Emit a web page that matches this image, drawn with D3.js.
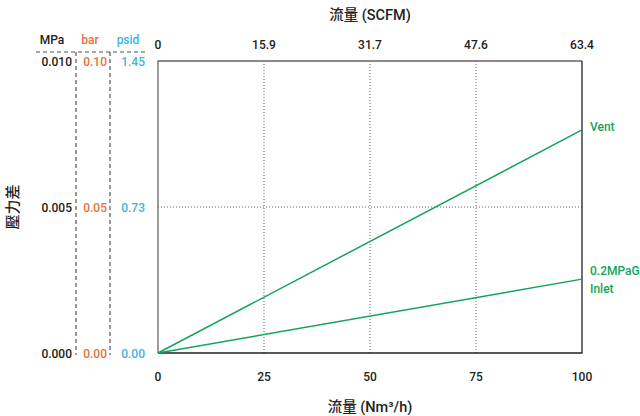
<!DOCTYPE html>
<html lang="zh-Hant">
<head>
<meta charset="UTF-8">
<title>壓力差</title>
<script src="https://cdn.jsdelivr.net/npm/d3@7"></script>
<style>
    body { margin: 0; background: #fff; }
    svg { font-family: Roboto, "Noto Sans CJK TC", sans-serif; font-size: 12px; }
</style>
</head>
<body>
<script>
    // data
    const flowTicks = [0, 25, 50, 75, 100];
    const scfmLabels = ["0", "15.9", "31.7", "47.6", "63.4"];
    const mpaTicks = [0, 0.005, 0.010];
    const mpaLabels = ["0.000", "0.005", "0.010"];
    const barLabels = ["0.00", "0.05", "0.10"];
    const psidLabels = ["0.00", "0.73", "1.45"];
    const seriesNames = ["Vent", "0.2MPaG\nInlet"];
    const ventValues = [[0, 0], [100, 0.00764]];
    const inletValues = [[0, 0], [100, 0.00253]];

    const width = 640, height = 416;
    const mLeft = 158, mRight = 582, mTop = 61, mBottom = 353;
    const green = "#14a35a";

    const svg = d3.select("body").append("svg")
        .attr("width", width)
        .attr("height", height);

    const x = d3.scaleLinear().domain([0, 100]).range([mLeft, mRight]);
    const y = d3.scaleLinear().domain([0, 0.010]).range([mBottom, mTop]);

    //grid
    svg.selectAll(".vgrid")
        .data([25, 50, 75])
        .enter().append("line")
        .attr("x1", d => x(d)).attr("x2", d => x(d))
        .attr("y1", mTop).attr("y2", mBottom)
        .attr("stroke", "#333").attr("stroke-width", 0.8)
        .attr("stroke-dasharray", "1,2");

    svg.append("line")
        .attr("x1", mLeft).attr("x2", mRight)
        .attr("y1", y(0.005)).attr("y2", y(0.005))
        .attr("stroke", "#333").attr("stroke-width", 0.8)
        .attr("stroke-dasharray", "1,2");

    // frame
    svg.append("path")
        .attr("d", `M${mLeft},${mBottom}V${mTop}H${mRight}`)
        .attr("fill", "none").attr("stroke", "#666").attr("stroke-width", 1.3);
    svg.append("path")
        .attr("d", `M${mRight},${mTop}V${mBottom}H${mLeft}`)
        .attr("fill", "none").attr("stroke", "#222").attr("stroke-width", 1.3);

    // lines
    const line = d3.line().x(d => x(d[0])).y(d => y(d[1]));
    [ventValues, inletValues].forEach(v => {
        svg.append("path")
            .attr("d", line(v))
            .attr("fill", "none")
            .attr("stroke", green)
            .attr("stroke-width", 1.5);
    });

    // series labels
    const lastVals = [ventValues[1][1], inletValues[1][1]];
    const labelShift = [1, -4];
    seriesNames.forEach((name, i) => {
        const t = svg.append("text")
            .attr("x", mRight + 8)
            .attr("y", y(lastVals[i]) + labelShift[i])
            .attr("fill", green)
            .attr("font-weight", 500);
        name.split("\n").forEach((s, j) => {
            t.append("tspan").attr("x", mRight + 8).attr("dy", j ? 18 : 0).text(s);
        });
    });

    // bottom axis
    svg.selectAll(".bt")
        .data(flowTicks)
        .enter().append("text")
        .attr("x", d => x(d)).attr("y", 381)
        .attr("text-anchor", "middle")
        .attr("fill", "#222").attr("font-weight", 500)
        .text(d => d);

    svg.append("text")
        .attr("x", 370).attr("y", 412)
        .attr("text-anchor", "middle")
        .attr("fill", "#222").style("font-size", "14.5px").attr("font-weight", 500)
        .text("流量 (Nm³/h)");

    // top axis
    svg.selectAll(".tt")
        .data(flowTicks)
        .enter().append("text")
        .attr("x", d => x(d)).attr("y", 49)
        .attr("text-anchor", "middle")
        .attr("fill", "#222").attr("font-weight", 500)
        .text((d, i) => scfmLabels[i]);

    svg.append("text")
        .attr("x", 370).attr("y", 20)
        .attr("text-anchor", "middle")
        .attr("fill", "#222").style("font-size", "14.5px").attr("font-weight", 500)
        .text("流量 (SCFM)");

    // left axes
    const cols = [
        { labels: mpaLabels, xr: 72, color: "#222", head: "MPa", hx: 52 },
        { labels: barLabels, xr: 107, color: "#e8703a", head: "bar", hx: 90 },
        { labels: psidLabels, xr: 145, color: "#3db5e0", head: "psid", hx: 128 }
    ];
    cols.forEach(c => {
        svg.selectAll(null)
            .data(mpaTicks)
            .enter().append("text")
            .attr("x", c.xr).attr("y", d => y(d) + 4.5)
            .attr("text-anchor", "end")
            .attr("fill", c.color).attr("font-weight", 500)
            .text((d, i) => c.labels[i]);
        svg.append("text")
            .attr("x", c.hx).attr("y", 44)
            .attr("text-anchor", "middle")
            .attr("fill", c.color).attr("font-weight", 500)
            .text(c.head);
    });

    // dashed separators
    svg.append("line")
        .attr("x1", 36).attr("x2", 146)
        .attr("y1", 52).attr("y2", 52)
        .attr("stroke", "#555").attr("stroke-width", 1.2).attr("stroke-dasharray", "4,3");
    [76, 110].forEach(px => {
        svg.append("line")
            .attr("x1", px).attr("x2", px)
            .attr("y1", 52).attr("y2", mBottom + 2)
            .attr("stroke", "#555").attr("stroke-width", 1.2).attr("stroke-dasharray", "4,3");
    });

    svg.append("text")
        .attr("transform", `translate(18,${y(0.005)}) rotate(-90)`)
        .attr("text-anchor", "middle")
        .attr("fill", "#222").style("font-size", "15px").attr("font-weight", 500)
        .text("壓力差");
</script>
</body>
</html>
